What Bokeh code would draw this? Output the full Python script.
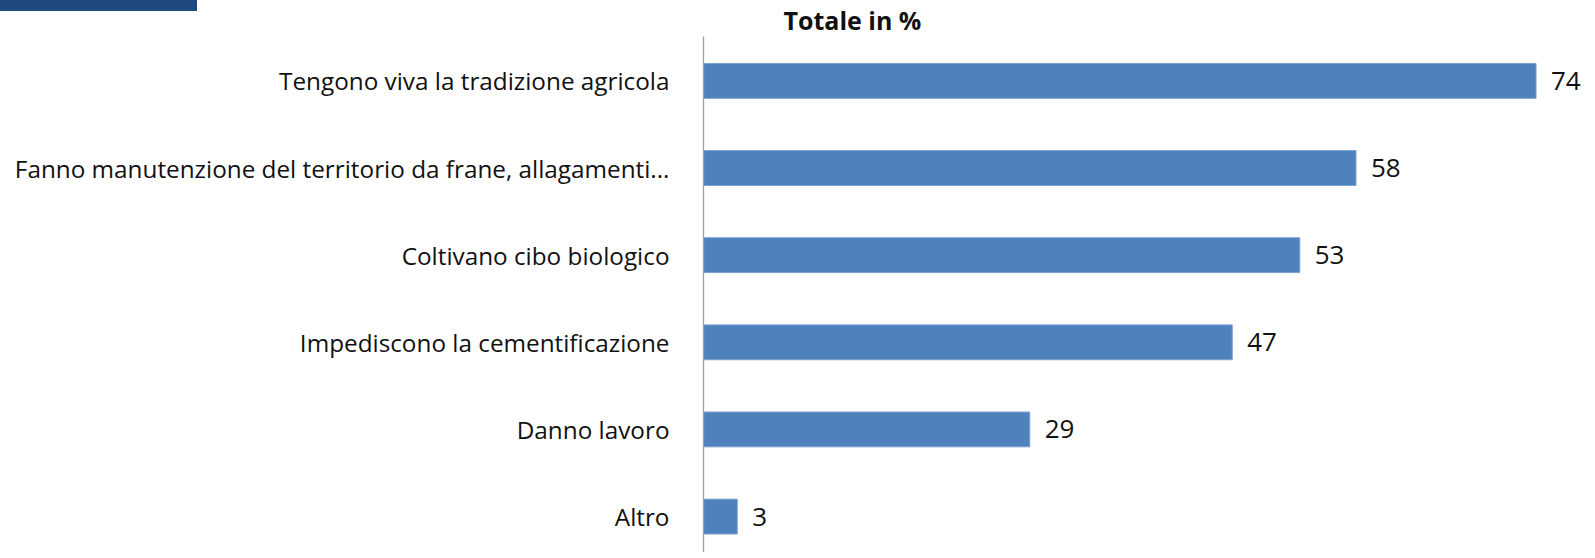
from bokeh.plotting import figure
from bokeh.models import ColumnDataSource, Range1d, FixedTicker, Div
from bokeh.layouts import column
from bokeh.core.properties import value
from bokeh.embed import file_html
from bokeh.resources import INLINE

categories = [
    "Tengono viva la tradizione agricola",
    "Fanno manutenzione del territorio da frane, allagamenti...",
    "Coltivano cibo biologico",
    "Impediscono la cementificazione",
    "Danno lavoro",
    "Altro",
]
values = [74, 58, 53, 47, 29, 3]
title_text = "Totale in %"

FONT = "Open Sans"
W, H = 1587, 552
LEFT, TOP = 703, 35
px_per_unit = 11.25
spacing = 87.3
first_center = 79.5

pos = list(range(len(categories)))
y_top = -(first_center - TOP) / spacing
y_bot = (H - first_center) / spacing

p = figure(width=W, height=H, output_backend="svg", toolbar_location=None,
           x_range=Range1d(0, (W - LEFT) / px_per_unit),
           y_range=Range1d(y_bot, y_top))
p.min_border_left = LEFT
p.min_border_top = TOP
p.min_border_right = 0
p.min_border_bottom = 0
p.outline_line_color = None
p.grid.visible = False
p.xaxis.visible = False
p.background_fill_color = "white"
p.border_fill_color = "white"
p.border_fill_alpha = 0

p.title.text = title_text
p.title.align = "left"
p.title.offset = 80
p.title.standoff = 0
p.title.text_font = FONT
p.title.text_font_size = "25px"
p.title.text_font_style = "bold"
p.title.text_color = "#111111"

src = ColumnDataSource(dict(y=pos, v=values, lab=[str(v) for v in values]))
p.hbar(y="y", left=0, right="v", height=0.40, source=src,
       fill_color="#4F81BD", line_color="#7BA0CF", line_width=1)
p.text(x="v", y="y", text="lab", source=src, x_offset=15,
       text_baseline="middle", text_align="left",
       text_font=value(FONT), text_font_size="26px", text_color="#111111")

ax = p.yaxis[0]
ax.ticker = FixedTicker(ticks=pos)
ax.major_label_overrides = {i: c for i, c in zip(pos, categories)}
ax.major_tick_line_color = None
ax.minor_tick_line_color = None
ax.major_tick_out = 0
ax.major_tick_in = 0
ax.major_label_standoff = 34
ax.axis_line_color = "#A0A0A0"
ax.axis_line_width = 1.3
ax.major_label_text_font = FONT
ax.major_label_text_font_size = "24.3px"
ax.major_label_text_color = "#111111"

header = Div(text="", width=197, height=11, margin=(0, 0, -11, 0),
             styles={"background-color": "#1F497D"})

layout = column(header, p, spacing=0)
open("out.html", "w").write(file_html(layout, INLINE))
